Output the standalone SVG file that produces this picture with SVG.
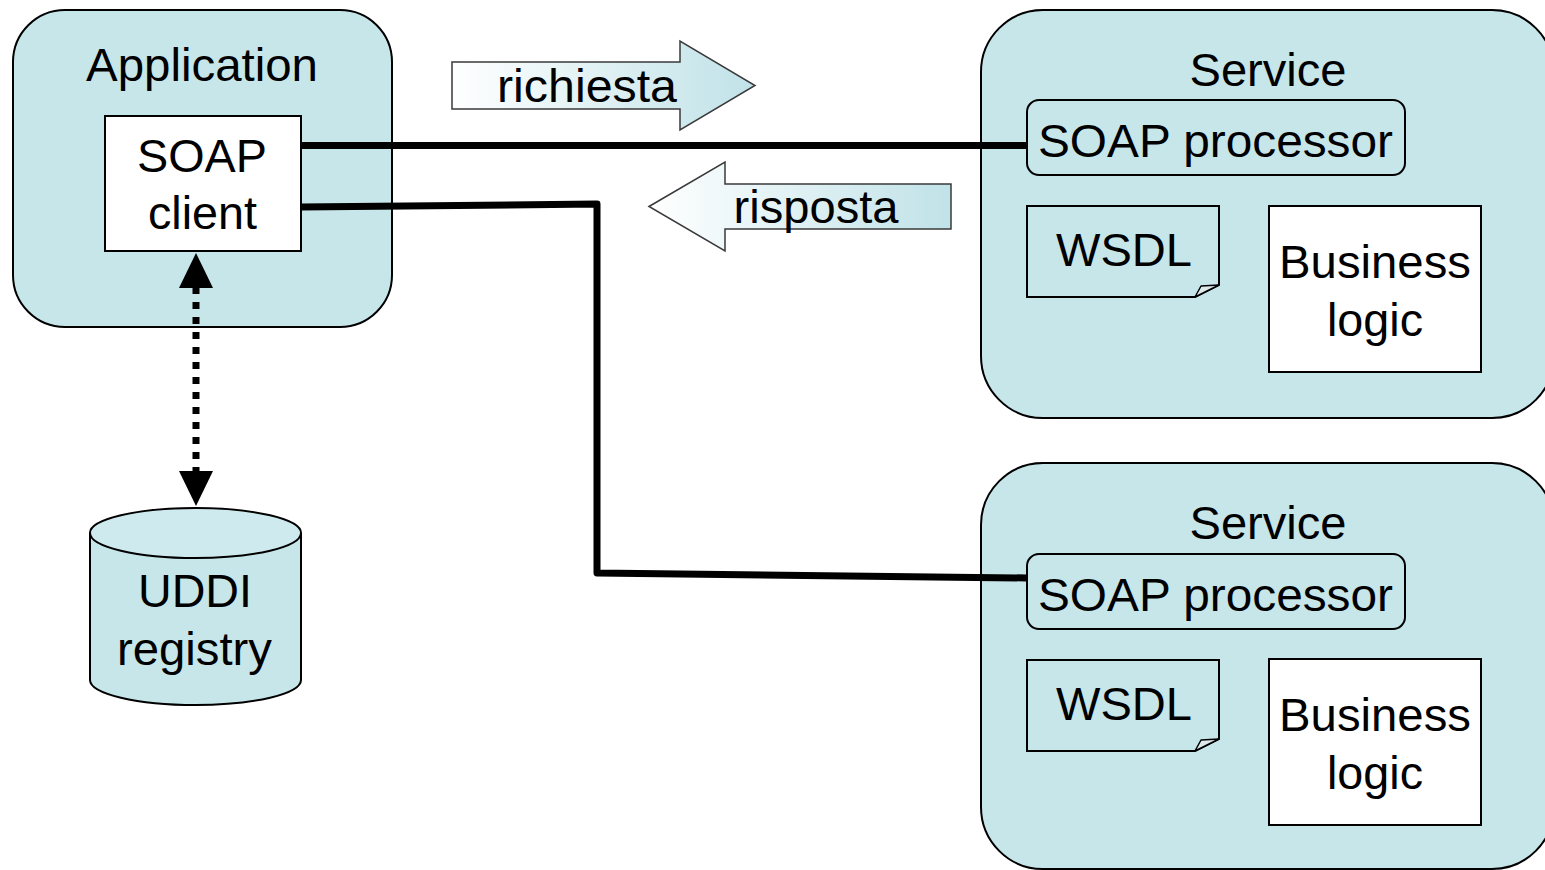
<svg xmlns="http://www.w3.org/2000/svg" width="1545" height="870" viewBox="0 0 1545 870">
  <style>
    .box { fill: #c6e6ea; stroke: #000; stroke-width: 2; }
    .white { fill: #fff; stroke: #000; stroke-width: 2; }
    .lbl { font-family: "Liberation Sans", Arial, sans-serif; font-size: 46px; fill: #000; text-anchor: middle; }
    .wire { fill: none; stroke: #000; stroke-width: 7; stroke-linejoin: round; }
    .dots { fill: none; stroke: #000; stroke-width: 7; stroke-dasharray: 7 8; }
    .flow { stroke: #3a3a3a; stroke-width: 1.5; }
  </style>
  <defs>
    <linearGradient id="gradRight" x1="0" y1="0" x2="1" y2="0">
      <stop offset="0" stop-color="#ffffff"/>
      <stop offset="1" stop-color="#c0e2e8"/>
    </linearGradient>
    <linearGradient id="gradLeft" x1="0" y1="0" x2="1" y2="0">
      <stop offset="0" stop-color="#ffffff"/>
      <stop offset="1" stop-color="#c0e2e8"/>
    </linearGradient>
  </defs>

  <rect width="1545" height="870" fill="#fff"/>

  <!-- client application -->
  <g id="application">
    <rect class="box" x="13" y="10" width="379" height="317" rx="52"/>
    <text class="lbl" x="202" y="81" textLength="232" lengthAdjust="spacingAndGlyphs">Application</text>
  </g>
  <g id="soap-client">
    <rect class="white" x="105" y="116" width="196" height="135"/>
    <text class="lbl" x="202" y="172" textLength="130" lengthAdjust="spacingAndGlyphs">SOAP</text>
    <text class="lbl" x="202.5" y="229" textLength="109" lengthAdjust="spacingAndGlyphs">client</text>
  </g>

  <!-- registry -->
  <g id="uddi-registry">
    <path class="box" d="M90,533 L90,680 A105.5,25 0 0 0 301,680 L301,533"/>
    <ellipse class="box" cx="195.5" cy="533" rx="105.5" ry="25" fill="#cdeaee" style="fill:#cfeaee"/>
    <text class="lbl" x="195" y="607" textLength="114" lengthAdjust="spacingAndGlyphs">UDDI</text>
    <text class="lbl" x="194.5" y="665" textLength="155" lengthAdjust="spacingAndGlyphs">registry</text>
  </g>

  <!-- first service -->
  <g id="service-1">
    <rect class="box" x="981" y="10" width="573" height="408" rx="62"/>
    <text class="lbl" x="1268" y="86" textLength="157" lengthAdjust="spacingAndGlyphs">Service</text>
    <g id="soap-processor-1">
      <rect class="box" x="1027" y="100" width="378" height="75" rx="12"/>
      <text class="lbl" x="1215.5" y="157" textLength="355" lengthAdjust="spacingAndGlyphs">SOAP processor</text>
    </g>
    <g id="wsdl-1">
      <path class="box" d="M1027,206 L1219,206 L1219,285 L1195,297 L1027,297 Z"/>
      <path d="M1195,297 L1201,286 L1219,285 Z" fill="#dde9ea" stroke="#000" stroke-width="1.5" stroke-linejoin="round"/>
      <text class="lbl" x="1124" y="266" textLength="136" lengthAdjust="spacingAndGlyphs">WSDL</text>
    </g>
    <g id="business-logic-1">
      <rect class="white" x="1269" y="206" width="212" height="166"/>
      <text class="lbl" x="1375" y="278" textLength="192" lengthAdjust="spacingAndGlyphs">Business</text>
      <text class="lbl" x="1375" y="336" textLength="96" lengthAdjust="spacingAndGlyphs">logic</text>
    </g>
  </g>

  <!-- second service, same layout shifted down -->
  <g id="service-2" transform="translate(0,453)">
    <rect class="box" x="981" y="10" width="573" height="406" rx="62"/>
    <text class="lbl" x="1268" y="86" textLength="157" lengthAdjust="spacingAndGlyphs">Service</text>
    <g id="soap-processor-2">
      <rect class="box" x="1027" y="101" width="378" height="75" rx="12"/>
      <text class="lbl" x="1215.5" y="158" textLength="355" lengthAdjust="spacingAndGlyphs">SOAP processor</text>
    </g>
    <g id="wsdl-2">
      <path class="box" d="M1027,207 L1219,207 L1219,286 L1195,298 L1027,298 Z"/>
      <path d="M1195,298 L1201,287 L1219,286 Z" fill="#dde9ea" stroke="#000" stroke-width="1.5" stroke-linejoin="round"/>
      <text class="lbl" x="1124" y="267" textLength="136" lengthAdjust="spacingAndGlyphs">WSDL</text>
    </g>
    <g id="business-logic-2">
      <rect class="white" x="1269" y="206" width="212" height="166"/>
      <text class="lbl" x="1375" y="278" textLength="192" lengthAdjust="spacingAndGlyphs">Business</text>
      <text class="lbl" x="1375" y="336" textLength="96" lengthAdjust="spacingAndGlyphs">logic</text>
    </g>
  </g>

  <!-- message flow arrows -->
  <g id="richiesta">
    <polygon class="flow" fill="url(#gradRight)" points="452,62 680,62 680,41 755,85.5 680,130 680,109 452,109"/>
    <text class="lbl" x="587" y="102" textLength="180" lengthAdjust="spacingAndGlyphs">richiesta</text>
  </g>
  <g id="risposta">
    <polygon class="flow" fill="url(#gradLeft)" points="649,206.5 725,162 725,184 951,184 951,229 725,229 725,251"/>
    <text class="lbl" x="816" y="223" textLength="165" lengthAdjust="spacingAndGlyphs">risposta</text>
  </g>

  <!-- connectors -->
  <g id="connectors">
    <path class="wire" d="M301,145.5 L1027,145.5"/>
    <path class="wire" d="M301,207 L597,204 L597,573 L1027,578"/>
    <path class="dots" d="M196,287 L196,472"/>
    <polygon points="196,253 213,288 179,288" fill="#000"/>
    <polygon points="196,506 213,471 179,471" fill="#000"/>
  </g>
</svg>
